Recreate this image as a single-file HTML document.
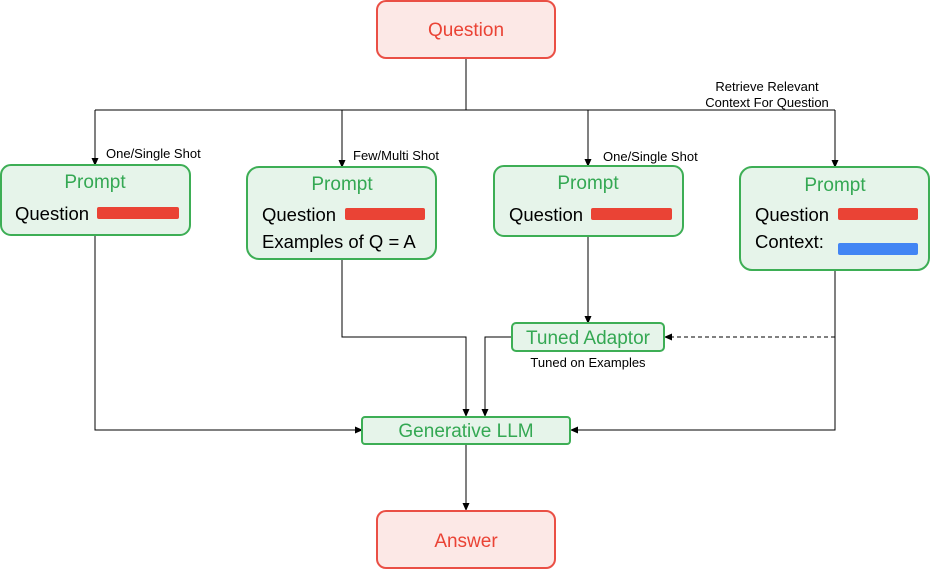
<!DOCTYPE html>
<html><head><meta charset="utf-8"><style>
html,body{margin:0;padding:0;background:#fff;width:935px;height:575px;overflow:hidden}
text{font-family:"Liberation Sans",sans-serif}
</style></head><body>
<svg width="935" height="575" viewBox="0 0 935 575" xmlns="http://www.w3.org/2000/svg">
<defs>
<marker id="a" markerWidth="8" markerHeight="8" refX="7" refY="4" orient="auto" markerUnits="userSpaceOnUse">
<path d="M0,0.5 L8,4 L0,7.5 Z" fill="#000"/></marker>
</defs>
<g fill="none" stroke="#000" stroke-width="1">
<path d="M466,58 V110"/>
<path d="M95,110 H835"/>
<path d="M95,110 V165" marker-end="url(#a)"/>
<path d="M342,110 V167" marker-end="url(#a)"/>
<path d="M588,110 V166" marker-end="url(#a)"/>
<path d="M835,110 V167" marker-end="url(#a)"/>
<path d="M588,236 V323" marker-end="url(#a)"/>
<path d="M835,337 H665" stroke-dasharray="4,3" marker-end="url(#a)"/>
<path d="M342,259 V337 H466 V416" marker-end="url(#a)"/>
<path d="M512,337 H485 V416" marker-end="url(#a)"/>
<path d="M95,235 V430 H362" marker-end="url(#a)"/>
<path d="M835,270 V430 H571" marker-end="url(#a)"/>
<path d="M466,444 V510" marker-end="url(#a)"/>
</g>
<g stroke-width="2">
<rect x="377" y="1" width="178" height="57" rx="9" fill="#fce8e6" stroke="#ea4f45"/>
<rect x="377" y="511" width="178" height="57" rx="9" fill="#fce8e6" stroke="#ea4f45"/>
<rect x="1" y="165" width="189" height="70" rx="10" fill="#e6f4ea" stroke="#3dae55"/>
<rect x="247" y="167" width="189" height="92" rx="12" fill="#e6f4ea" stroke="#3dae55"/>
<rect x="494" y="166" width="189" height="70" rx="10" fill="#e6f4ea" stroke="#3dae55"/>
<rect x="740" y="167" width="189" height="103" rx="12" fill="#e6f4ea" stroke="#3dae55"/>
<rect x="512" y="323" width="152" height="28" rx="4" fill="#e6f4ea" stroke="#3dae55"/>
<rect x="362" y="417" width="208" height="27" rx="3" fill="#e6f4ea" stroke="#3dae55"/>
</g>
<g fill="#ea4335">
<rect x="97" y="207" width="82" height="12" rx="2"/>
<rect x="345" y="208" width="80" height="12" rx="2"/>
<rect x="591" y="208" width="81" height="12" rx="2"/>
<rect x="838" y="208" width="80" height="12" rx="2"/>
</g>
<rect x="838" y="243" width="80" height="12" rx="2" fill="#4285f4"/>
<g font-size="19" fill="#ea4335" text-anchor="middle">
<text x="466" y="36">Question</text>
<text x="466" y="547">Answer</text>
</g>
<g font-size="19" fill="#34a853" text-anchor="middle">
<text x="95" y="188">Prompt</text>
<text x="342" y="190">Prompt</text>
<text x="588" y="189">Prompt</text>
<text x="835" y="191">Prompt</text>
<text x="588" y="344">Tuned Adaptor</text>
<text x="466" y="437">Generative LLM</text>
</g>
<g font-size="18.5" fill="#000">
<text x="15" y="220">Question</text>
<text x="262" y="221">Question</text>
<text x="262" y="248">Examples of Q = A</text>
<text x="509" y="221">Question</text>
<text x="755" y="221">Question</text>
<text x="755" y="248">Context:</text>
</g>
<g font-size="13" fill="#000">
<text x="106" y="158">One/Single Shot</text>
<text x="353" y="160">Few/Multi Shot</text>
<text x="603" y="161">One/Single Shot</text>
<text x="767" y="91" text-anchor="middle">Retrieve Relevant</text>
<text x="767" y="107" text-anchor="middle">Context For Question</text>
<text x="588" y="367" text-anchor="middle">Tuned on Examples</text>
</g>
</svg>
</body></html>
